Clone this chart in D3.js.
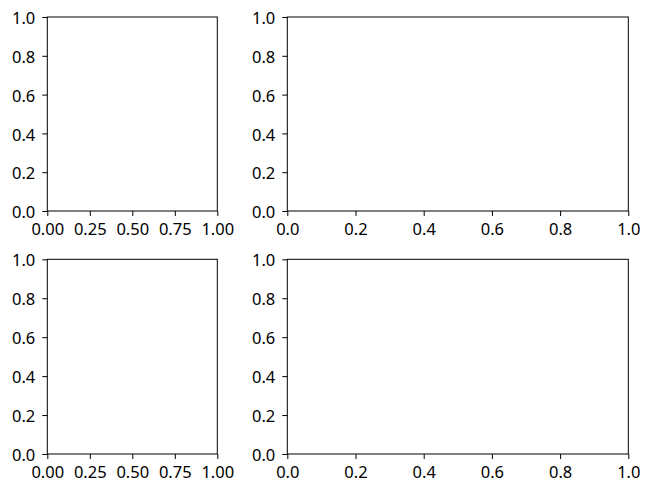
<!DOCTYPE html>
<html><head><meta charset="utf-8">
<script src="https://cdn.jsdelivr.net/npm/d3@7"></script>
<style>body{margin:0;background:#fff}svg{display:block}</style>
</head><body>
<svg id="c" width="651" height="491"></svg>
<script>
const domain = [0, 1];
const narrowXTicks = [0, 0.25, 0.5, 0.75, 1.0];
const wideXTicks = [0, 0.2, 0.4, 0.6, 0.8, 1.0];
const yTicks = [0, 0.2, 0.4, 0.6, 0.8, 1.0];
const panels = [
  {x0: 47.3, x1: 217.3, y0: 17, y1: 211, xt: narrowXTicks, fmt: ".2f"},
  {x0: 287.3, x1: 628.3, y0: 17, y1: 211, xt: wideXTicks, fmt: ".1f"},
  {x0: 47.3, x1: 217.3, y0: 259.3, y1: 454, xt: narrowXTicks, fmt: ".2f"},
  {x0: 287.3, x1: 628.3, y0: 259.3, y1: 454, xt: wideXTicks, fmt: ".1f"}
];
const svg = d3.select("#c");
const font = "'Noto Sans', sans-serif";
panels.forEach(p => {
  const x = d3.scaleLinear().domain(domain).range([p.x0, p.x1]);
  const y = d3.scaleLinear().domain(domain).range([p.y1, p.y0]);
  const g = svg.append("g");
  const gx = g.append("g").attr("transform", `translate(0,${p.y1})`)
    .call(d3.axisBottom(x).tickValues(p.xt).tickFormat(d3.format(p.fmt)).tickSize(5).tickPadding(7));
  const gy = g.append("g").attr("transform", `translate(${p.x0},0)`)
    .call(d3.axisLeft(y).tickValues(yTicks).tickFormat(d3.format(".1f")).tickSize(5).tickPadding(7));
  gy.selectAll("text").attr("dy", "0.4em");
  [gx, gy].forEach(a => {
    a.select(".domain").remove();
    a.selectAll("line").attr("stroke", "#000").attr("stroke-width", 1);
    a.selectAll("text").attr("fill", "#000").style("font-family", font).style("font-size", "16.5px");
  });
  g.append("rect").attr("x", p.x0).attr("y", p.y0).attr("width", p.x1 - p.x0).attr("height", p.y1 - p.y0)
    .attr("fill", "none").attr("stroke", "#000").attr("stroke-width", 1);
});
</script>
</body></html>
